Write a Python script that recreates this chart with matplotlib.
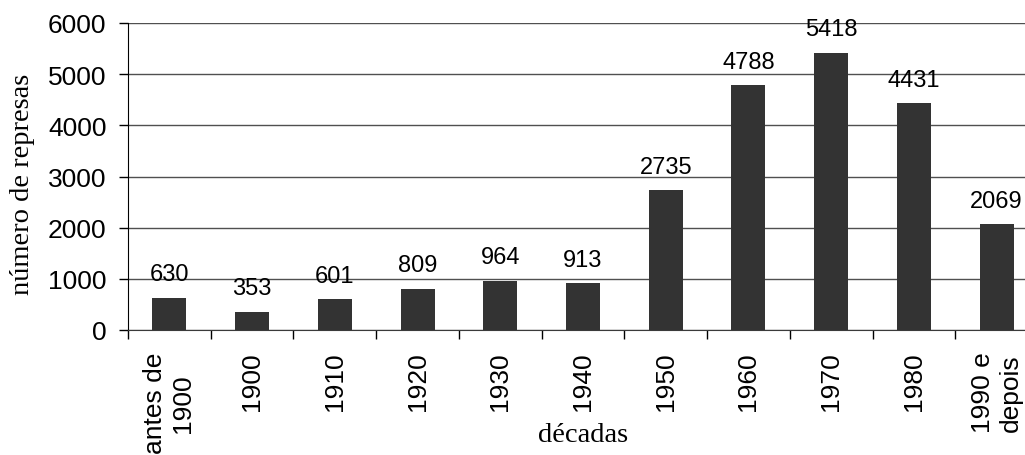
import matplotlib.pyplot as plt
import numpy as np

categorias = ['antes de\n1900', '1900', '1910', '1920', '1930', '1940',
              '1950', '1960', '1970', '1980', '1990 e\ndepois']
represas = [630, 353, 601, 809, 964, 913, 2735, 4788, 5418, 4431, 2069]
yticks = [0, 1000, 2000, 3000, 4000, 5000, 6000]

sans = 'Liberation Sans'
serif = 'Liberation Serif'

fig = plt.figure(figsize=(10.25, 4.56), dpi=100)
# axes runs a bit past the right edge, like the original crop
ax = fig.add_axes([128 / 1025, 1 - 331 / 456, 910 / 1025, 307 / 456])

x = np.arange(len(categorias))
ax.bar(x, represas, width=0.41, color='#333333', zorder=3)

for xi, v in zip(x, represas):
    ax.annotate(str(v), (xi, v), xytext=(0, 9), textcoords='offset points',
                ha='center', va='bottom', fontsize=17, family=sans)

ax.set_xlim(-0.5, len(categorias) - 0.5)
ax.set_ylim(0, 6000)
ax.set_yticks(yticks)
ax.set_yticklabels([str(t) for t in yticks], family=sans, fontsize=19)
ax.yaxis.grid(True, color='#505050', lw=1, zorder=0)
ax.tick_params(axis='y', direction='out', length=6.5, width=1, pad=9)

# labels at category centres, ticks at category edges
ax.set_xticks(x)
ax.set_xticklabels(categorias, rotation=90, family=sans, fontsize=19,
                   multialignment='center', va='top', ha='center')
ax.set_xticks(np.arange(len(categorias) + 1) - 0.5, minor=True)
ax.tick_params(axis='x', which='major', length=0, pad=15.5)
ax.tick_params(axis='x', which='minor', direction='out', length=6.5, width=1)

for s in ['top', 'right']:
    ax.spines[s].set_visible(False)
ax.spines['left'].set_color('black')
ax.spines['bottom'].set_color('#3a3a3a')

fig.text(23 / 1025, 1 - 184 / 456, 'número de represas', rotation=90,
         ha='center', va='center', family=serif, fontsize=20.5)
fig.text(583 / 1025, 1 - 436 / 456, 'décadas', ha='center', va='center',
         family=serif, fontsize=20.5)

fig.savefig('out.png', dpi=100)
